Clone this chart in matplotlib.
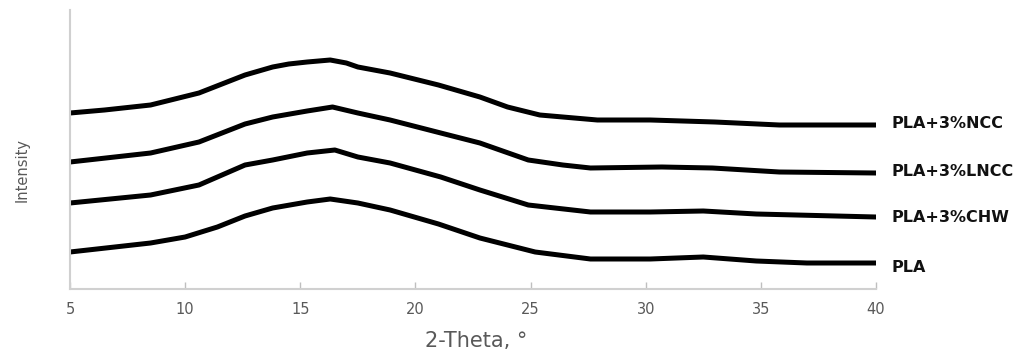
import matplotlib
matplotlib.use("Agg")
import matplotlib.pyplot as plt

# ---- data (intensity in arbitrary units) ----
theta_ncc = [5, 6.5, 8.5, 10.6, 12.6, 13.8, 14.5, 15.3, 16.3, 17.0, 17.5, 18.9, 21.0, 22.8, 24.0, 25.4, 27.9, 30.2, 33.0, 35.8, 40]
int_ncc = [176, 179, 184, 196, 214, 222, 225, 227, 229, 226, 222, 216, 204, 192, 182, 174, 169, 169, 167, 164, 164]

theta_lncc = [5, 8.5, 10.6, 12.6, 13.8, 15.3, 16.4, 17.5, 18.9, 21.1, 22.8, 24.9, 26.4, 27.6, 30.7, 32.9, 35.8, 40]
int_lncc = [127, 136, 147, 165, 172, 178, 182, 176, 169, 156, 146, 129, 124, 121, 122, 121, 117, 116]

theta_chw = [5, 8.5, 10.6, 12.6, 13.8, 15.3, 16.5, 17.5, 18.9, 21.1, 22.8, 24.9, 27.6, 30.2, 32.5, 34.8, 40]
int_chw = [86, 94, 104, 124, 129, 136, 139, 132, 126, 112, 99, 84, 77, 77, 78, 75, 72]

theta_pla = [5, 8.5, 10.0, 11.4, 12.6, 13.8, 15.3, 16.3, 17.5, 18.9, 21.0, 22.8, 25.2, 27.6, 30.2, 32.5, 34.8, 37.0, 40]
int_pla = [37, 46, 52, 62, 73, 81, 87, 90, 86, 79, 65, 51, 37, 30, 30, 32, 28, 26, 26]

series_labels = ["PLA+3%NCC", "PLA+3%LNCC", "PLA+3%CHW", "PLA"]
label_levels = [166, 117, 71, 21]
xticks = [5, 10, 15, 20, 25, 30, 35, 40]

# ---- figure ----
fig = plt.figure(figsize=(10.2, 3.58), dpi=100)
ax = fig.add_axes([70 / 1020, 69 / 358, 806 / 1020, 279 / 358])

series = [(theta_ncc, int_ncc), (theta_lncc, int_lncc), (theta_chw, int_chw), (theta_pla, int_pla)]
for (xs, ys) in series:
    ax.plot(xs, ys, color="black", lw=3.6, solid_joinstyle="round", solid_capstyle="round")

for lab, lev in zip(series_labels, label_levels):
    ax.annotate(lab, xy=(40, lev), xycoords="data", xytext=(11.5, 0), textcoords="offset points",
                ha="left", va="center", fontsize=11.5, fontweight="bold", family="DejaVu Sans",
                color="#111111", annotation_clip=False)

ax.set_xlim(5, 40)
ax.set_ylim(0, 279)
ax.set_xticks(xticks)
ax.set_xticklabels([str(t) for t in xticks], family="DejaVu Sans", fontsize=10.5, color="#595959")
ax.set_yticks([])
ax.tick_params(axis="x", direction="in", length=5, width=1, color="#bfbfbf", pad=9)

for s in ["top", "right"]:
    ax.spines[s].set_visible(False)
for s in ["left", "bottom"]:
    ax.spines[s].set_color("#d0d0d0")
    ax.spines[s].set_linewidth(1.5)

ax.set_xlabel("2-Theta, \u00b0", family="DejaVu Sans", fontsize=15, color="#595959")
ax.xaxis.set_label_coords(0.5038, -0.150)
ax.set_ylabel("Intensity", family="DejaVu Sans", fontsize=10.5, color="#595959")
ax.yaxis.set_label_coords(-0.050, 0.427)

fig.savefig("out.png", dpi=100)
